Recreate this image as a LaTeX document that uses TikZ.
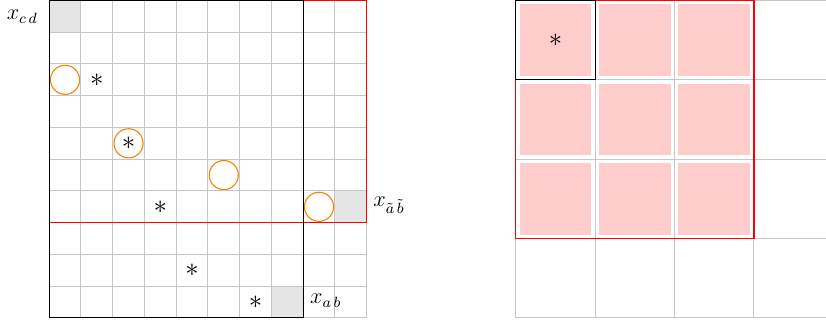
\documentclass[tikz,border=0pt]{standalone}
\begin{document}
\begin{tikzpicture}[x=0.6cm,y=0.6cm,
  gridline/.style={draw=gray!45,line width=0.55pt},
  graycell/.style={fill=gray!20},
  pinkcell/.style={fill=red!20},
  redframe/.style={draw=red,line width=0.6pt},
  blackframe/.style={draw=black,line width=0.6pt},
  starnode/.style={inner sep=0pt,font=\Large},
  ring/.style={circle,draw=orange,line width=0.6pt,minimum size=0.55cm,inner sep=0pt},
  lbl/.style={inner sep=0pt,font=\large}]
\clip (-1.55,-0.195) rectangle (24.47,10.015);
% ---- left grid ----
\fill[graycell] (0,9) rectangle (1,10);
\fill[graycell] (9,3) rectangle (10,4);
\fill[graycell] (7,0) rectangle (8,1);
\foreach \k in {0,...,10}{
  \draw[gridline] (\k,0) -- (\k,10);
  \draw[gridline] (0,\k) -- (10,\k);
}
\draw[redframe] (0,3) rectangle (10,10);
\draw[blackframe] (0,0) rectangle (8,10);
\node[ring] (c1) at (0.5,7.5) {};
\node[ring] (c2) at (2.5,5.5) {};
\node[ring] (c3) at (5.5,4.5) {};
\node[ring] (c4) at (8.5,3.5) {};
\node[starnode] (s1) at (1.5,7.5) {$\ast$};
\node[starnode] (s2) at (2.5,5.5) {$\ast$};
\node[starnode] (s3) at (3.5,3.5) {$\ast$};
\node[starnode] (s4) at (4.5,1.5) {$\ast$};
\node[starnode] (s5) at (6.5,0.5) {$\ast$};
\node[lbl,anchor=base east] (lcd) at (-0.35,9.39) {$x_{c\,d}$};
\node[lbl,anchor=base west] (lab2) at (10.2,3.5) {$x_{\tilde a\,\tilde b}$};
\node[lbl,anchor=base west] (lab) at (8.21,0.44) {$x_{a\,b}$};
% ---- right grid ----
\foreach \i in {0,1,2}{
  \foreach \j in {0,1,2}{
    \fill[pinkcell] ({14.7+2.5*\i+0.12},{7.5-2.5*\j+0.12}) rectangle ++(2.26,2.26);
  }
}
\foreach \k in {0,1,2,3,4}{
  \draw[gridline] ({14.7+2.5*\k},0) -- ({14.7+2.5*\k},10);
  \draw[gridline] (14.7,{2.5*\k}) -- (24.7,{2.5*\k});
}
\draw[redframe] (14.7,2.5) rectangle (22.2,10);
\draw[blackframe] (14.7,7.5) rectangle (17.2,10);
\node[starnode] (s6) at (15.95,8.75) {$\ast$};
\end{tikzpicture}
\end{document}
